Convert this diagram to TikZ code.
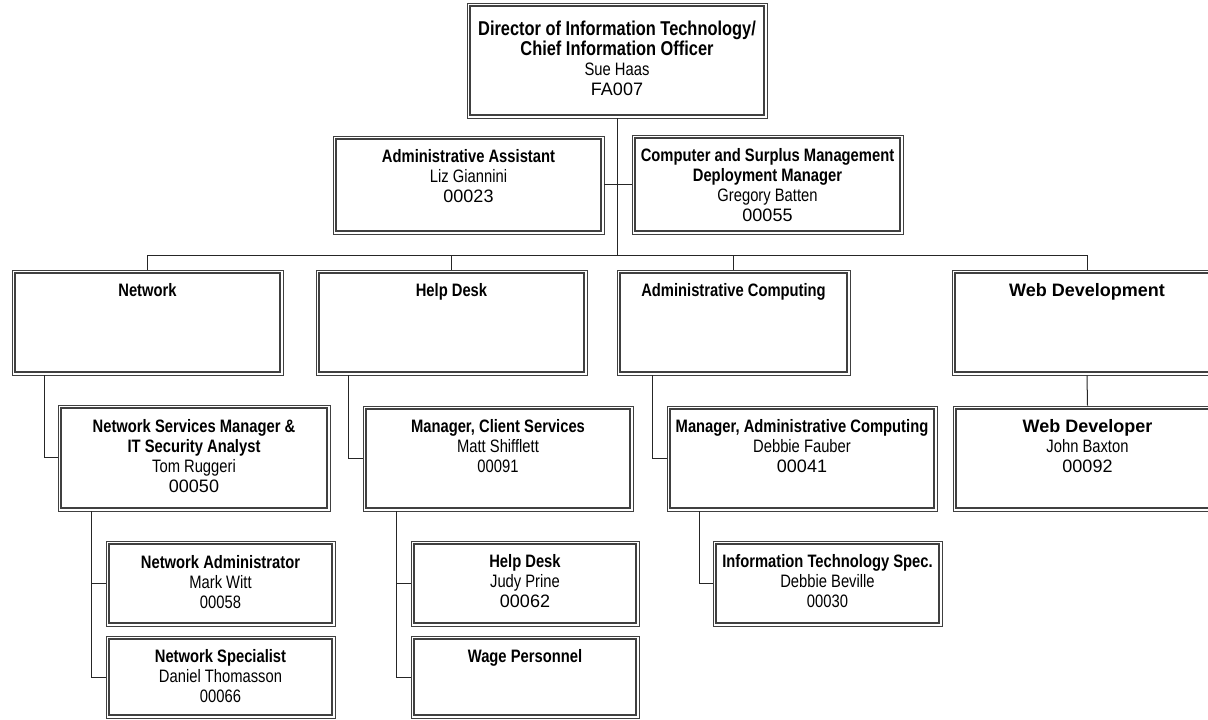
\documentclass[tikz,border=0pt]{standalone}
\usepackage{fontspec}
\setmainfont[FakeStretch=0.82]{Liberation Sans}
\newfontfamily\widefont{Liberation Sans}
\usepackage{tikz}
\usetikzlibrary{positioning, fit}

\begin{document}
\begin{tikzpicture}[
    x=0.75pt, y=-0.75pt,
    orgbox/.style={draw=black!75, line width=0.5pt, inner sep=0pt,
                   path picture={\draw[line width=1.8pt]
                       ([shift={(2.1pt,2.1pt)}]path picture bounding box.south west) rectangle
                       ([shift={(-2.1pt,-2.1pt)}]path picture bounding box.north east);}},
    txt/.style={anchor=north, inner sep=0pt, align=center, font=\fontsize{13.5}{15}\selectfont},
    conn/.style={draw=black!85, line width=0.75pt},
]
    \useasboundingbox (0,0) rectangle (1208,720);

    % top: director and staff
    \node[orgbox, fit={(467,3) (767,118)}] (dir) {};
    \node[txt, below=13.5pt of dir.north] (dir-t) {{\fontsize{15}{15}\selectfont\bfseries Director of Information Technology/}\\{\fontsize{15}{15}\selectfont\bfseries Chief Information Officer}\\Sue Haas\\{\widefont FA007}};
    \node[orgbox, fit={(333,136) (604,234)}] (asst) {};
    \node[txt, below=10pt of asst.north] (asst-t) {\textbf{Administrative Assistant}\\Liz Giannini\\{\widefont 00023}};
    \node[orgbox, fit={(632,135) (903,234)}] (csm) {};
    \node[txt, below=10pt of csm.north] (csm-t) {\textbf{Computer and Surplus Management}\\\textbf{Deployment Manager}\\Gregory Batten\\{\widefont 00055}};

    % departments
    \node[orgbox, fit={(12,270) (283,375)}] (net) {};
    \node[txt, below=10pt of net.north] (net-t) {\textbf{Network}};
    \node[orgbox, fit={(316,270) (587,375)}] (help) {};
    \node[txt, below=10pt of help.north] (help-t) {\textbf{Help Desk}};
    \node[orgbox, fit={(617,270) (850,375)}] (adcomp) {};
    \node[txt, below=10pt of adcomp.north] (adcomp-t) {\textbf{Administrative Computing}};
    \node[orgbox, fit={(952,270) (1222,375)}] (web) {};
    \node[txt, below=10pt of web.north] (web-t) {{\widefont\bfseries Web Development}};

    % managers
    \node[orgbox, fit={(58,405) (330,511)}] (nsm) {};
    \node[txt, below=11pt of nsm.north] (nsm-t) {\textbf{Network Services Manager \&}\\\textbf{IT Security Analyst}\\Tom Ruggeri\\{\widefont 00050}};
    \node[orgbox, fit={(363,406) (633,511)}] (mcs) {};
    \node[txt, below=10pt of mcs.north] (mcs-t) {\textbf{Manager, Client Services}\\Matt Shifflett\\00091};
    \node[orgbox, fit={(667,406) (937,511)}] (mac) {};
    \node[txt, below=10pt of mac.north] (mac-t) {\textbf{Manager, Administrative Computing}\\Debbie Fauber\\{\widefont 00041}};
    \node[orgbox, fit={(953,406) (1222,511)}] (webdev) {};
    \node[txt, below=10pt of webdev.north] (webdev-t) {{\widefont\bfseries Web Developer}\\John Baxton\\{\widefont 00092}};

    % staff
    \node[orgbox, fit={(106,541) (335,626)}] (nadm) {};
    \node[txt, below=11pt of nadm.north] (nadm-t) {\textbf{Network Administrator}\\Mark Witt\\00058};
    \node[orgbox, fit={(106,636) (335,718)}] (nspec) {};
    \node[txt, below=10pt of nspec.north] (nspec-t) {\textbf{Network Specialist}\\Daniel Thomasson\\00066};
    \node[orgbox, fit={(411,541) (639,626)}] (hdesk) {};
    \node[txt, below=10.5pt of hdesk.north] (hdesk-t) {\textbf{Help Desk}\\Judy Prine\\{\widefont 00062}};
    \node[orgbox, fit={(411,636) (639,718)}] (wage) {};
    \node[txt, below=10pt of wage.north] (wage-t) {\textbf{Wage Personnel}};
    \node[orgbox, fit={(713,541) (942,626)}] (its) {};
    \node[txt, below=10pt of its.north] (its-t) {\textbf{Information Technology Spec.}\\Debbie Beville\\00030};

    % connectors
    \coordinate (bus) at (617,256);
    \draw[conn] (dir.south) -- (bus);
    \draw[conn] (asst.east) -- (asst.east -| bus);
    \draw[conn] (csm.west) -- (csm.west -| bus);
    \draw[conn] (net.north) -- (net.north |- bus) -- (web.north |- bus) -- (web.north);
    \draw[conn] (help.north) -- (help.north |- bus);
    \draw[conn] (adcomp.north) -- (adcomp.north |- bus);

    \draw[conn] ([xshift=24.75pt]net.south west) |- (nsm.west);
    \draw[conn] ([xshift=24.75pt]help.south west) |- (mcs.west);
    \draw[conn] ([xshift=27pt]adcomp.south west) |- (mac.west);
    \draw[conn] (web.south) -- (webdev.north);

    \draw[conn] ([xshift=25.5pt]nsm.south west) |- (nadm.west);
    \draw[conn] ([xshift=25.5pt]nsm.south west) |- (nspec.west);
    \draw[conn] ([xshift=25.5pt]mcs.south west) |- (hdesk.west);
    \draw[conn] ([xshift=25.5pt]mcs.south west) |- (wage.west);
    \draw[conn] ([xshift=24.75pt]mac.south west) |- (its.west);
\end{tikzpicture}
\end{document}
